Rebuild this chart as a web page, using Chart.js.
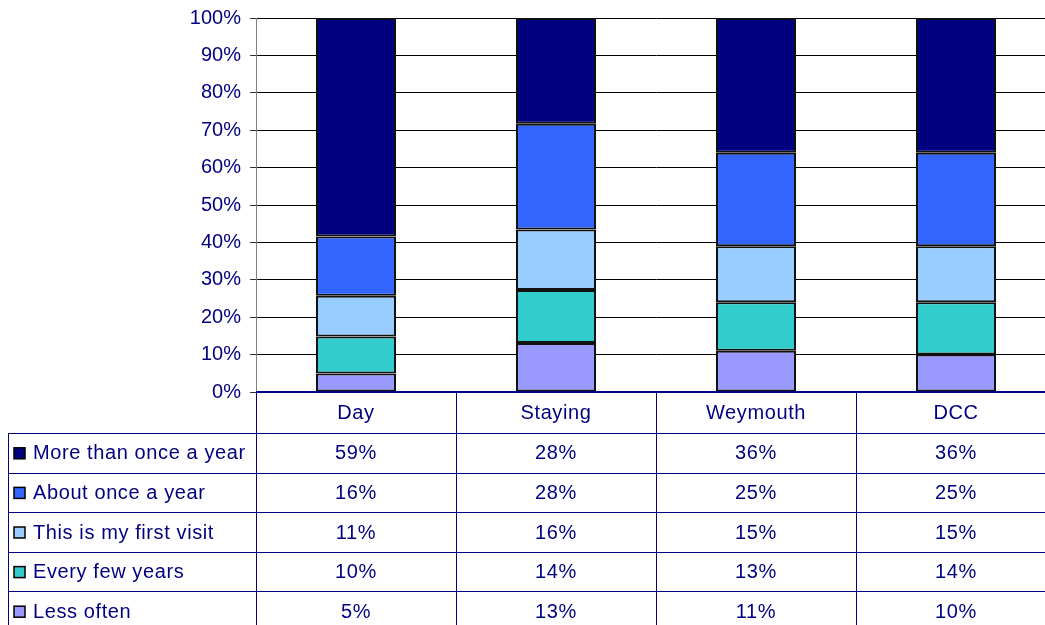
<!DOCTYPE html>
<html>
<head>
<meta charset="utf-8">
<script src="https://cdn.jsdelivr.net/npm/chart.js@4/dist/chart.umd.min.js"></script>
<style>
  html,
  body {
    margin: 0;
    padding: 0;
    background: #fff;
    overflow: hidden;
  }
</style>
</head>
<body>
<canvas id="visits-chart" width="1056" height="625"></canvas>
<script>
const categories = ["Day", "Staying", "Weymouth", "DCC"];

const moreThanOnce = [59, 28, 36, 36];
const aboutOnce = [16, 28, 25, 25];
const firstVisit = [11, 16, 15, 15];
const everyFewYears = [10, 14, 13, 14];
const lessOften = [5, 13, 11, 10];

const seriesNames = [
  "More than once a year",
  "About once a year",
  "This is my first visit",
  "Every few years",
  "Less often",
];
const seriesValues = [moreThanOnce, aboutOnce, firstVisit, everyFewYears, lessOften];
const seriesColors = ["#000080", "#3366FF", "#99CCFF", "#33CCCC", "#9999FF"];

const navy = "#000080";
const font = '20px "Liberation Sans", Arial, sans-serif';

// each column is shown as a share of 100%
const totals = categories.map((c, i) =>
  seriesValues.reduce((sum, values) => sum + values[i], 0),
);
const share = (values) => values.map((v, i) => (v / totals[i]) * 100);

// stacked from the bottom up, table goes top down
const datasets = seriesNames
  .map((name, k) => ({
    label: name,
    data: share(seriesValues[k]),
    backgroundColor: seriesColors[k],
    borderColor: "#111",
    borderWidth: 2,
    borderSkipped: false,
    barPercentage: 0.4,
    categoryPercentage: 1,
  }))
  .reverse();

const HEADER_H = 41;
const ROW_H = 39.6;
const TABLE_LEFT = 8;

const dataTable = {
  id: "dataTable",
  afterDraw(chart) {
    const { ctx, chartArea } = chart;
    const x = chart.scales.x;
    const colW = (chartArea.right - chartArea.left) / categories.length;
    const top = Math.round(chartArea.bottom);
    const bottom = chart.height;
    const right = chart.width;

    ctx.save();
    ctx.strokeStyle = navy;
    ctx.lineWidth = 1;

    // column borders
    for (let i = 0; i < categories.length; i++) {
      const cx = Math.round(chartArea.left + i * colW) + 0.5;
      ctx.beginPath();
      ctx.moveTo(cx, top);
      ctx.lineTo(cx, bottom);
      ctx.stroke();
    }
    ctx.beginPath();
    ctx.moveTo(TABLE_LEFT + 0.5, top + HEADER_H);
    ctx.lineTo(TABLE_LEFT + 0.5, bottom);
    ctx.stroke();

    // row borders
    seriesNames.forEach((name, k) => {
      const y = Math.round(top + HEADER_H + k * ROW_H) + 0.5;
      ctx.beginPath();
      ctx.moveTo(TABLE_LEFT, y);
      ctx.lineTo(right, y);
      ctx.stroke();
    });

    // category axis line
    ctx.lineWidth = 2;
    ctx.beginPath();
    ctx.moveTo(chartArea.left, top);
    ctx.lineTo(right, top);
    ctx.stroke();

    ctx.font = font;
    ctx.letterSpacing = "0.6px";
    ctx.fillStyle = navy;
    ctx.textBaseline = "middle";
    ctx.textAlign = "center";
    categories.forEach((cat, i) => {
      ctx.fillText(cat, x.getPixelForValue(i), top + HEADER_H / 2 + 1);
    });

    seriesNames.forEach((name, k) => {
      const cy = top + HEADER_H + k * ROW_H + ROW_H / 2 + 1;

      ctx.fillStyle = seriesColors[k];
      ctx.fillRect(14, cy - 6, 11, 11);
      ctx.strokeStyle = "#000";
      ctx.lineWidth = 1.5;
      ctx.strokeRect(14, cy - 6, 11, 11);

      ctx.fillStyle = navy;
      ctx.textAlign = "left";
      ctx.fillText(name, 33, cy);

      ctx.textAlign = "center";
      seriesValues[k].forEach((v, i) => {
        ctx.fillText(v + "%", x.getPixelForValue(i), cy);
      });
    });

    ctx.restore();
  },
};

const ctx = document.getElementById("visits-chart");
const chart = new Chart(ctx, {
  type: "bar",
  data: {
    labels: categories,
    datasets: datasets,
  },
  options: {
    responsive: false,
    animation: false,
    devicePixelRatio: 1,
    layout: {
      padding: { top: 18, bottom: 233, left: 0, right: 0 },
    },
    plugins: {
      legend: { display: false },
      tooltip: { enabled: false },
    },
    scales: {
      x: {
        display: false,
        stacked: true,
      },
      y: {
        stacked: true,
        min: 0,
        max: 100,
        afterFit: (scale) => {
          scale.width = 256;
          scale.paddingTop = 0;
          scale.paddingBottom = 0;
        },
        ticks: {
          stepSize: 10,
          padding: 9,
          color: navy,
          font: { family: '"Liberation Sans", Arial, sans-serif', size: 20 },
          callback: (v) => v + "%",
        },
        grid: {
          color: "#000",
          lineWidth: 1,
          tickLength: 6,
          tickColor: "#333",
        },
        border: {
          color: "#808080",
          width: 1,
        },
      },
    },
  },
  plugins: [dataTable],
});
</script>
</body>
</html>
